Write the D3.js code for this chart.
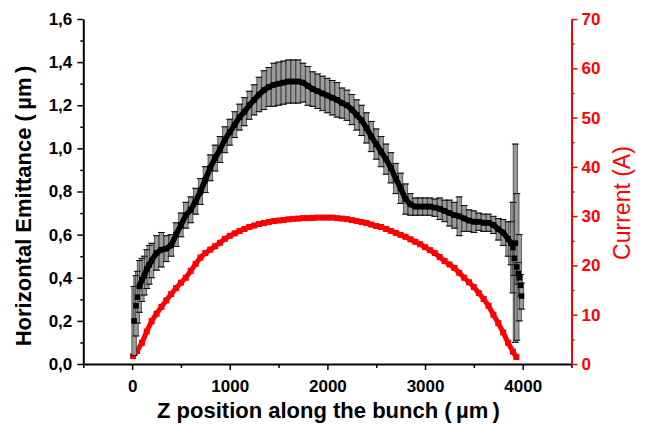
<!DOCTYPE html>
<html>
<head>
<meta charset="utf-8">
<script src="https://cdn.jsdelivr.net/npm/d3@7"></script>
<style>
  html, body { margin: 0; padding: 0; background: #fff; }
  svg { display: block; }
  text { font-family: "Liberation Sans", Arial, sans-serif; }
</style>
</head>
<body>
<svg id="chart" width="646" height="426"></svg>
<script>
// Beam current along the bunch (A)
const zCurrent = [10, 50, 100, 150, 200, 250, 300, 350, 400, 450, 500, 550, 600, 650, 700, 750, 800, 850, 900, 950,
  1000, 1050, 1100, 1150, 1200, 1250, 1300, 1350, 1400, 1450, 1500, 1550, 1600, 1650, 1700, 1750, 1800, 1850, 1900, 1950,
  2000, 2050, 2100, 2150, 2200, 2250, 2300, 2350, 2400, 2450, 2500, 2550, 2600, 2650, 2700, 2750, 2800, 2850, 2900, 2950,
  3000, 3050, 3100, 3150, 3200, 3250, 3300, 3350, 3400, 3450, 3500, 3550, 3600, 3650, 3700, 3750, 3800, 3850, 3900, 3935];
const current = [1.6, 2.6, 4.3, 6.6, 8.7, 10.2, 11.6, 12.9, 14.2, 15.4, 16.5, 17.5, 18.9, 20.3, 21.6, 22.5, 23.2, 23.9, 24.6, 25.4,
  26.0, 26.5, 27.0, 27.4, 27.8, 28.1, 28.4, 28.6, 28.8, 29.0, 29.1, 29.2, 29.35, 29.45, 29.5, 29.6, 29.6, 29.65, 29.7, 29.7,
  29.7, 29.7, 29.6, 29.5, 29.4, 29.2, 29.0, 28.8, 28.6, 28.3, 28.0, 27.8, 27.4, 27.0, 26.6, 26.2, 25.8, 25.3, 24.8, 24.3,
  23.7, 23.1, 22.5, 21.7, 20.9, 20.2, 19.5, 18.5, 17.5, 16.6, 15.6, 14.4, 13.2, 11.8, 10.0, 8.3, 6.4, 4.3, 2.5, 1.4];

// Horizontal slice emittance (µm) with its error
const zEmit = [20, 40, 55, 75, 100, 125, 150, 175, 200, 250, 300, 350, 400, 450, 500, 550, 600, 650, 700, 750,
  800, 850, 900, 950, 1000, 1050, 1100, 1150, 1200, 1250, 1300, 1350, 1400, 1450, 1500, 1550, 1600, 1650, 1700, 1750,
  1800, 1850, 1900, 1950, 2000, 2050, 2100, 2150, 2200, 2250, 2300, 2350, 2400, 2450, 2500, 2550, 2600, 2650, 2700, 2750,
  2800, 2850, 2900, 2950, 3000, 3050, 3100, 3150, 3200, 3250, 3300, 3350, 3400, 3450, 3500, 3550, 3600, 3650, 3700, 3750,
  3800, 3850, 3880, 3900, 3915, 3925, 3940, 3955, 3965, 3978, 3988];
const emittance = [0.20, 0.27, 0.31, 0.36, 0.39, 0.41, 0.44, 0.46, 0.48, 0.515, 0.53, 0.535, 0.55, 0.60, 0.645, 0.69, 0.715, 0.755, 0.80, 0.855,
  0.91, 0.955, 0.995, 1.04, 1.075, 1.11, 1.145, 1.17, 1.20, 1.225, 1.25, 1.27, 1.285, 1.295, 1.30, 1.305, 1.31, 1.31, 1.31, 1.305,
  1.29, 1.275, 1.265, 1.255, 1.245, 1.235, 1.225, 1.21, 1.20, 1.18, 1.155, 1.13, 1.095, 1.055, 1.02, 0.985, 0.95, 0.91, 0.86, 0.815,
  0.765, 0.74, 0.73, 0.73, 0.73, 0.73, 0.725, 0.72, 0.71, 0.70, 0.69, 0.685, 0.675, 0.665, 0.66, 0.66, 0.655, 0.655, 0.645, 0.625,
  0.61, 0.58, 0.56, 0.54, 0.49, 0.56, 0.45, 0.42, 0.40, 0.365, 0.315];
const emittanceErr = [0.16, 0.14, 0.12, 0.12, 0.10, 0.09, 0.09, 0.09, 0.08, 0.08, 0.08, 0.06, 0.05, 0.055, 0.055, 0.06, 0.06, 0.06, 0.06, 0.06,
  0.06, 0.06, 0.06, 0.06, 0.06, 0.06, 0.06, 0.065, 0.065, 0.07, 0.08, 0.09, 0.09, 0.10, 0.10, 0.10, 0.10, 0.10, 0.10, 0.09,
  0.09, 0.08, 0.08, 0.08, 0.08, 0.08, 0.08, 0.07, 0.07, 0.07, 0.07, 0.07, 0.07, 0.07, 0.07, 0.07, 0.07, 0.07, 0.07, 0.07,
  0.07, 0.05, 0.04, 0.04, 0.04, 0.04, 0.04, 0.05, 0.05, 0.06, 0.06, 0.09, 0.06, 0.05, 0.05, 0.04, 0.04, 0.04, 0.04, 0.05,
  0.06, 0.08, 0.10, 0.21, 0.08, 0.46, 0.34, 0.05, 0.20, 0.05, 0.06];

// Axis ticks
const xTicks = [0, 1000, 2000, 3000, 4000];
const xMinorTicks = [-500, 500, 1500, 2500, 3500, 4500];
const yLeftTicks = [0, 0.2, 0.4, 0.6, 0.8, 1.0, 1.2, 1.4, 1.6];
const yLeftMinorTicks = [0.1, 0.3, 0.5, 0.7, 0.9, 1.1, 1.3, 1.5];
const yRightTicks = [0, 10, 20, 30, 40, 50, 60, 70];
const yRightMinorTicks = [5, 15, 25, 35, 45, 55, 65];

const RED = "#ff0000";
const svg = d3.select("#chart");
const plot = { left: 83.3, right: 571.5, top: 19, bottom: 364 };

const x = d3.scaleLinear().domain([-500, 4500]).range([plot.left, plot.right]);
const yL = d3.scaleLinear().domain([0, 1.6]).range([plot.bottom, plot.top]);
const yR = d3.scaleLinear().domain([0, 70]).range([plot.bottom, plot.top]);

const commaFmt = d => d3.format(".1f")(d).replace(".", ",");

// ---- Current (red squares, dense enough to read as a band)
const cur = zCurrent.map((z, i) => ({ z, v: current[i] }));
svg.append("path")
  .datum(cur)
  .attr("fill", "none")
  .attr("stroke", RED)
  .attr("stroke-width", 5)
  .attr("d", d3.line().x(d => x(d.z)).y(d => yR(d.v)));
svg.append("g").selectAll("rect")
  .data(cur).join("rect")
  .attr("x", d => x(d.z) - 3).attr("y", d => yR(d.v) - 3)
  .attr("width", 6).attr("height", 6)
  .attr("fill", RED);

// ---- Emittance with error bars
const em = zEmit.map((z, i) => ({ z, v: emittance[i], e: emittanceErr[i] }));
const bars = svg.append("g");
bars.selectAll("rect")
  .data(em).join("rect")
  .attr("x", d => x(d.z) - 2.2)
  .attr("y", d => yL(d.v + d.e))
  .attr("width", 4.4)
  .attr("height", d => yL(d.v - d.e) - yL(d.v + d.e))
  .attr("fill", "#9a9a9a")
  .attr("stroke", "#333")
  .attr("stroke-width", 0.7);
const caps = svg.append("g").attr("stroke", "#111").attr("stroke-width", 1);
caps.selectAll("line.top")
  .data(em).join("line").attr("class", "top")
  .attr("x1", d => x(d.z) - 3.5).attr("x2", d => x(d.z) + 3.5)
  .attr("y1", d => yL(d.v + d.e)).attr("y2", d => yL(d.v + d.e));
caps.selectAll("line.bot")
  .data(em).join("line").attr("class", "bot")
  .attr("x1", d => x(d.z) - 3.5).attr("x2", d => x(d.z) + 3.5)
  .attr("y1", d => yL(d.v - d.e)).attr("y2", d => yL(d.v - d.e));

svg.append("path")
  .datum(em.filter(d => d.z >= 75 && d.z <= 3880))
  .attr("fill", "none")
  .attr("stroke", "#000")
  .attr("stroke-width", 5.5)
  .attr("d", d3.line().x(d => x(d.z)).y(d => yL(d.v)));
svg.append("g").selectAll("rect")
  .data(em).join("rect")
  .attr("x", d => x(d.z) - 2.8).attr("y", d => yL(d.v) - 2.8)
  .attr("width", 5.6).attr("height", 5.6)
  .attr("fill", "#000");

// ---- Axes
function styleAxis(g, color, fontWeight) {
  g.select(".domain").attr("stroke", color).attr("stroke-width", 2);
  g.selectAll(".tick line").attr("stroke", color).attr("stroke-width", 1.5);
  g.selectAll(".tick text")
    .attr("fill", color)
    .style("font-size", "17px")
    .style("font-weight", fontWeight)
    .style("font-family", "'Liberation Sans', Arial, sans-serif");
}

// minor ticks first, then major axes over them
svg.append("g")
  .attr("transform", `translate(0,${plot.bottom})`)
  .call(d3.axisBottom(x).tickValues(xMinorTicks).tickSize(4).tickFormat(""))
  .call(g => { g.select(".domain").remove(); g.selectAll(".tick line").attr("stroke", "#000").attr("stroke-width", 1.5); });
svg.append("g")
  .attr("transform", `translate(${plot.left},0)`)
  .call(d3.axisLeft(yL).tickValues(yLeftMinorTicks).tickSize(3).tickFormat(""))
  .call(g => { g.select(".domain").remove(); g.selectAll(".tick line").attr("stroke", "#000").attr("stroke-width", 1.5); });
svg.append("g")
  .attr("transform", `translate(${plot.right},0)`)
  .call(d3.axisRight(yR).tickValues(yRightMinorTicks).tickSize(3).tickFormat(""))
  .call(g => { g.select(".domain").remove(); g.selectAll(".tick line").attr("stroke", RED).attr("stroke-width", 1.5); });

svg.append("g")
  .attr("transform", `translate(0,${plot.bottom})`)
  .call(d3.axisBottom(x).tickValues(xTicks).tickSize(6).tickSizeOuter(0).tickPadding(10).tickFormat(d3.format("d")))
  .call(g => styleAxis(g, "#000", "bold"));
svg.append("g")
  .attr("transform", `translate(${plot.left},0)`)
  .call(d3.axisLeft(yL).tickValues(yLeftTicks).tickSize(6).tickSizeOuter(0).tickPadding(5).tickFormat(commaFmt))
  .call(g => styleAxis(g, "#000", "bold"));
svg.append("g")
  .attr("transform", `translate(${plot.right},0)`)
  .call(d3.axisRight(yR).tickValues(yRightTicks).tickSize(6).tickSizeOuter(0).tickPadding(4).tickFormat(d3.format("d")))
  .call(g => styleAxis(g, RED, "bold"));

// ---- Axis titles
svg.append("text")
  .attr("x", 328.5).attr("y", 418)
  .attr("text-anchor", "middle")
  .style("font-size", "22px").style("font-weight", "bold")
  .attr("fill", "#000")
  .text("Z position along the bunch (\u2009µm\u2009)");

svg.append("text")
  .attr("transform", "translate(31,206) rotate(-90)")
  .attr("text-anchor", "middle")
  .style("font-size", "22px").style("font-weight", "bold")
  .attr("fill", "#000")
  .text("Horizontal Emittance (\u2009µm\u2009)");

svg.append("text")
  .attr("transform", "translate(630,203) rotate(-90)")
  .attr("text-anchor", "middle")
  .style("font-size", "23px")
  .attr("fill", RED)
  .text("Current (A)");
</script>
</body>
</html>
